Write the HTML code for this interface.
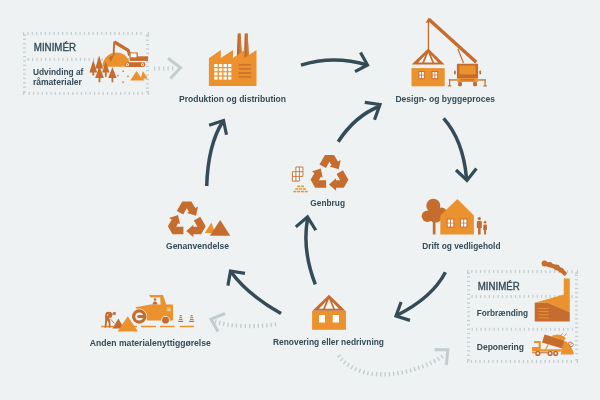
<!DOCTYPE html>
<html><head><meta charset="utf-8">
<style>
html,body{margin:0;padding:0;background:#eef2f3;}
body{width:600px;height:400px;overflow:hidden;}
svg{display:block;will-change:transform;}
.mn{font-weight:normal;stroke:#344b58;stroke-width:0.35px;}
text{font-family:"Liberation Sans",sans-serif;font-weight:bold;fill:#344b58;}
</style></head>
<body>
<svg width="600" height="400" viewBox="0 0 600 400">
<rect x="0" y="0" width="600" height="400" fill="#eef2f3"/>

<!-- ===== dashed boxes ===== -->
<g fill="#c3ccce"><rect x="27.30" y="32" width="1.2" height="3"/><rect x="31.65" y="32" width="1.2" height="3"/><rect x="36.00" y="32" width="1.2" height="3"/><rect x="40.35" y="32" width="1.2" height="3"/><rect x="44.70" y="32" width="1.2" height="3"/><rect x="49.05" y="32" width="1.2" height="3"/><rect x="53.40" y="32" width="1.2" height="3"/><rect x="57.75" y="32" width="1.2" height="3"/><rect x="62.10" y="32" width="1.2" height="3"/><rect x="66.45" y="32" width="1.2" height="3"/><rect x="70.80" y="32" width="1.2" height="3"/><rect x="75.15" y="32" width="1.2" height="3"/><rect x="79.50" y="32" width="1.2" height="3"/><rect x="83.85" y="32" width="1.2" height="3"/><rect x="88.20" y="32" width="1.2" height="3"/><rect x="92.55" y="32" width="1.2" height="3"/><rect x="96.90" y="32" width="1.2" height="3"/><rect x="101.25" y="32" width="1.2" height="3"/><rect x="105.60" y="32" width="1.2" height="3"/><rect x="109.95" y="32" width="1.2" height="3"/><rect x="114.30" y="32" width="1.2" height="3"/><rect x="118.65" y="32" width="1.2" height="3"/><rect x="123.00" y="32" width="1.2" height="3"/><rect x="127.35" y="32" width="1.2" height="3"/><rect x="131.70" y="32" width="1.2" height="3"/><rect x="136.05" y="32" width="1.2" height="3"/><rect x="140.40" y="32" width="1.2" height="3"/>
<rect x="28.65" y="92" width="1.2" height="3"/><rect x="33.00" y="92" width="1.2" height="3"/><rect x="37.35" y="92" width="1.2" height="3"/><rect x="41.70" y="92" width="1.2" height="3"/><rect x="46.05" y="92" width="1.2" height="3"/><rect x="50.40" y="92" width="1.2" height="3"/><rect x="54.75" y="92" width="1.2" height="3"/><rect x="59.10" y="92" width="1.2" height="3"/><rect x="63.45" y="92" width="1.2" height="3"/><rect x="67.80" y="92" width="1.2" height="3"/><rect x="72.15" y="92" width="1.2" height="3"/><rect x="76.50" y="92" width="1.2" height="3"/><rect x="80.85" y="92" width="1.2" height="3"/><rect x="85.20" y="92" width="1.2" height="3"/><rect x="89.55" y="92" width="1.2" height="3"/><rect x="93.90" y="92" width="1.2" height="3"/><rect x="98.25" y="92" width="1.2" height="3"/><rect x="102.60" y="92" width="1.2" height="3"/><rect x="106.95" y="92" width="1.2" height="3"/><rect x="111.30" y="92" width="1.2" height="3"/><rect x="115.65" y="92" width="1.2" height="3"/><rect x="120.00" y="92" width="1.2" height="3"/><rect x="124.35" y="92" width="1.2" height="3"/><rect x="128.70" y="92" width="1.2" height="3"/><rect x="133.05" y="92" width="1.2" height="3"/><rect x="137.40" y="92" width="1.2" height="3"/><rect x="141.75" y="92" width="1.2" height="3"/>
<rect x="23" y="38.65" width="3" height="1.2"/><rect x="23" y="43.00" width="3" height="1.2"/><rect x="23" y="47.35" width="3" height="1.2"/><rect x="23" y="51.70" width="3" height="1.2"/><rect x="23" y="56.05" width="3" height="1.2"/><rect x="23" y="60.40" width="3" height="1.2"/><rect x="23" y="64.75" width="3" height="1.2"/><rect x="23" y="69.10" width="3" height="1.2"/><rect x="23" y="73.45" width="3" height="1.2"/><rect x="23" y="77.80" width="3" height="1.2"/><rect x="23" y="82.15" width="3" height="1.2"/><rect x="23" y="86.50" width="3" height="1.2"/>
<rect x="146" y="35.30" width="3" height="1.2"/><rect x="146" y="39.65" width="3" height="1.2"/><rect x="146" y="44.00" width="3" height="1.2"/><rect x="146" y="48.35" width="3" height="1.2"/><rect x="146" y="52.70" width="3" height="1.2"/><rect x="146" y="57.05" width="3" height="1.2"/><rect x="146" y="61.40" width="3" height="1.2"/><rect x="146" y="65.75" width="3" height="1.2"/><rect x="146" y="70.10" width="3" height="1.2"/><rect x="146" y="74.45" width="3" height="1.2"/><rect x="146" y="78.80" width="3" height="1.2"/><rect x="146" y="83.15" width="3" height="1.2"/><rect x="146" y="87.50" width="3" height="1.2"/>
<rect x="27.65" y="58" width="1.2" height="3"/><rect x="32.00" y="58" width="1.2" height="3"/><rect x="36.35" y="58" width="1.2" height="3"/><rect x="40.70" y="58" width="1.2" height="3"/><rect x="45.05" y="58" width="1.2" height="3"/><rect x="49.40" y="58" width="1.2" height="3"/><rect x="53.75" y="58" width="1.2" height="3"/><rect x="58.10" y="58" width="1.2" height="3"/><rect x="62.45" y="58" width="1.2" height="3"/><rect x="66.80" y="58" width="1.2" height="3"/><rect x="71.15" y="58" width="1.2" height="3"/><rect x="75.50" y="58" width="1.2" height="3"/><rect x="79.85" y="58" width="1.2" height="3"/><rect x="84.20" y="58" width="1.2" height="3"/><rect x="88.55" y="58" width="1.2" height="3"/><rect x="92.90" y="58" width="1.2" height="3"/><rect x="97.25" y="58" width="1.2" height="3"/><rect x="101.60" y="58" width="1.2" height="3"/><rect x="105.95" y="58" width="1.2" height="3"/><rect x="110.30" y="58" width="1.2" height="3"/><rect x="114.65" y="58" width="1.2" height="3"/><rect x="119.00" y="58" width="1.2" height="3"/><rect x="123.35" y="58" width="1.2" height="3"/><rect x="127.70" y="58" width="1.2" height="3"/><rect x="132.05" y="58" width="1.2" height="3"/><rect x="136.40" y="58" width="1.2" height="3"/><rect x="140.75" y="58" width="1.2" height="3"/>
<rect x="23" y="32" width="1.3" height="3.8"/><rect x="23" y="34.5" width="3" height="1.3"/>
<rect x="23" y="91.2" width="1.3" height="3.8"/><rect x="23" y="91.2" width="3" height="1.3"/>
<rect x="147.7" y="32" width="1.3" height="3.8"/><rect x="146" y="34.5" width="3" height="1.3"/>
<rect x="147.7" y="91.2" width="1.3" height="3.8"/><rect x="146" y="91.2" width="3" height="1.3"/>
<rect x="471.20" y="270" width="1.2" height="3"/><rect x="475.55" y="270" width="1.2" height="3"/><rect x="479.90" y="270" width="1.2" height="3"/><rect x="484.25" y="270" width="1.2" height="3"/><rect x="488.60" y="270" width="1.2" height="3"/><rect x="492.95" y="270" width="1.2" height="3"/><rect x="497.30" y="270" width="1.2" height="3"/><rect x="501.65" y="270" width="1.2" height="3"/><rect x="506.00" y="270" width="1.2" height="3"/><rect x="510.35" y="270" width="1.2" height="3"/><rect x="514.70" y="270" width="1.2" height="3"/><rect x="519.05" y="270" width="1.2" height="3"/><rect x="523.40" y="270" width="1.2" height="3"/><rect x="527.75" y="270" width="1.2" height="3"/><rect x="532.10" y="270" width="1.2" height="3"/><rect x="536.45" y="270" width="1.2" height="3"/><rect x="540.80" y="270" width="1.2" height="3"/><rect x="545.15" y="270" width="1.2" height="3"/><rect x="549.50" y="270" width="1.2" height="3"/><rect x="553.85" y="270" width="1.2" height="3"/><rect x="558.20" y="270" width="1.2" height="3"/><rect x="562.55" y="270" width="1.2" height="3"/><rect x="566.90" y="270" width="1.2" height="3"/><rect x="571.25" y="270" width="1.2" height="3"/>
<rect x="470.65" y="360" width="1.2" height="3"/><rect x="475.00" y="360" width="1.2" height="3"/><rect x="479.35" y="360" width="1.2" height="3"/><rect x="483.70" y="360" width="1.2" height="3"/><rect x="488.05" y="360" width="1.2" height="3"/><rect x="492.40" y="360" width="1.2" height="3"/><rect x="496.75" y="360" width="1.2" height="3"/><rect x="501.10" y="360" width="1.2" height="3"/><rect x="505.45" y="360" width="1.2" height="3"/><rect x="509.80" y="360" width="1.2" height="3"/><rect x="514.15" y="360" width="1.2" height="3"/><rect x="518.50" y="360" width="1.2" height="3"/><rect x="522.85" y="360" width="1.2" height="3"/><rect x="527.20" y="360" width="1.2" height="3"/><rect x="531.55" y="360" width="1.2" height="3"/><rect x="535.90" y="360" width="1.2" height="3"/><rect x="540.25" y="360" width="1.2" height="3"/><rect x="544.60" y="360" width="1.2" height="3"/><rect x="548.95" y="360" width="1.2" height="3"/><rect x="553.30" y="360" width="1.2" height="3"/><rect x="557.65" y="360" width="1.2" height="3"/><rect x="562.00" y="360" width="1.2" height="3"/><rect x="566.35" y="360" width="1.2" height="3"/><rect x="570.70" y="360" width="1.2" height="3"/>
<rect x="467" y="276.40" width="3" height="1.2"/><rect x="467" y="280.75" width="3" height="1.2"/><rect x="467" y="285.10" width="3" height="1.2"/><rect x="467" y="289.45" width="3" height="1.2"/><rect x="467" y="293.80" width="3" height="1.2"/><rect x="467" y="298.15" width="3" height="1.2"/><rect x="467" y="302.50" width="3" height="1.2"/><rect x="467" y="306.85" width="3" height="1.2"/><rect x="467" y="311.20" width="3" height="1.2"/><rect x="467" y="315.55" width="3" height="1.2"/><rect x="467" y="319.90" width="3" height="1.2"/><rect x="467" y="324.25" width="3" height="1.2"/><rect x="467" y="328.60" width="3" height="1.2"/><rect x="467" y="332.95" width="3" height="1.2"/><rect x="467" y="337.30" width="3" height="1.2"/><rect x="467" y="341.65" width="3" height="1.2"/><rect x="467" y="346.00" width="3" height="1.2"/><rect x="467" y="350.35" width="3" height="1.2"/><rect x="467" y="354.70" width="3" height="1.2"/>
<rect x="575" y="274.80" width="3" height="1.2"/><rect x="575" y="279.15" width="3" height="1.2"/><rect x="575" y="283.50" width="3" height="1.2"/><rect x="575" y="287.85" width="3" height="1.2"/><rect x="575" y="292.20" width="3" height="1.2"/><rect x="575" y="296.55" width="3" height="1.2"/><rect x="575" y="300.90" width="3" height="1.2"/><rect x="575" y="305.25" width="3" height="1.2"/><rect x="575" y="309.60" width="3" height="1.2"/><rect x="575" y="313.95" width="3" height="1.2"/><rect x="575" y="318.30" width="3" height="1.2"/><rect x="575" y="322.65" width="3" height="1.2"/><rect x="575" y="327.00" width="3" height="1.2"/><rect x="575" y="331.35" width="3" height="1.2"/><rect x="575" y="335.70" width="3" height="1.2"/><rect x="575" y="340.05" width="3" height="1.2"/><rect x="575" y="344.40" width="3" height="1.2"/><rect x="575" y="348.75" width="3" height="1.2"/><rect x="575" y="353.10" width="3" height="1.2"/>
<rect x="471.40" y="295" width="1.2" height="3"/><rect x="475.75" y="295" width="1.2" height="3"/><rect x="480.10" y="295" width="1.2" height="3"/><rect x="484.45" y="295" width="1.2" height="3"/><rect x="488.80" y="295" width="1.2" height="3"/><rect x="493.15" y="295" width="1.2" height="3"/><rect x="497.50" y="295" width="1.2" height="3"/><rect x="501.85" y="295" width="1.2" height="3"/><rect x="506.20" y="295" width="1.2" height="3"/><rect x="510.55" y="295" width="1.2" height="3"/><rect x="514.90" y="295" width="1.2" height="3"/><rect x="519.25" y="295" width="1.2" height="3"/><rect x="523.60" y="295" width="1.2" height="3"/><rect x="527.95" y="295" width="1.2" height="3"/><rect x="532.30" y="295" width="1.2" height="3"/><rect x="536.65" y="295" width="1.2" height="3"/><rect x="541.00" y="295" width="1.2" height="3"/><rect x="545.35" y="295" width="1.2" height="3"/><rect x="549.70" y="295" width="1.2" height="3"/><rect x="554.05" y="295" width="1.2" height="3"/><rect x="558.40" y="295" width="1.2" height="3"/><rect x="562.75" y="295" width="1.2" height="3"/><rect x="567.10" y="295" width="1.2" height="3"/><rect x="571.45" y="295" width="1.2" height="3"/>
<rect x="471.65" y="327.75" width="1.2" height="3"/><rect x="476.00" y="327.75" width="1.2" height="3"/><rect x="480.35" y="327.75" width="1.2" height="3"/><rect x="484.70" y="327.75" width="1.2" height="3"/><rect x="489.05" y="327.75" width="1.2" height="3"/><rect x="493.40" y="327.75" width="1.2" height="3"/><rect x="497.75" y="327.75" width="1.2" height="3"/><rect x="502.10" y="327.75" width="1.2" height="3"/><rect x="506.45" y="327.75" width="1.2" height="3"/><rect x="510.80" y="327.75" width="1.2" height="3"/><rect x="515.15" y="327.75" width="1.2" height="3"/><rect x="519.50" y="327.75" width="1.2" height="3"/><rect x="523.85" y="327.75" width="1.2" height="3"/><rect x="528.20" y="327.75" width="1.2" height="3"/><rect x="532.55" y="327.75" width="1.2" height="3"/><rect x="536.90" y="327.75" width="1.2" height="3"/><rect x="541.25" y="327.75" width="1.2" height="3"/><rect x="545.60" y="327.75" width="1.2" height="3"/><rect x="549.95" y="327.75" width="1.2" height="3"/><rect x="554.30" y="327.75" width="1.2" height="3"/><rect x="558.65" y="327.75" width="1.2" height="3"/><rect x="563.00" y="327.75" width="1.2" height="3"/><rect x="567.35" y="327.75" width="1.2" height="3"/><rect x="571.70" y="327.75" width="1.2" height="3"/>
<rect x="467" y="270" width="1.3" height="3.8"/><rect x="467" y="272.5" width="3" height="1.3"/>
<rect x="467" y="359.2" width="1.3" height="3.8"/><rect x="467" y="359.2" width="3" height="1.3"/>
<rect x="576.7" y="270" width="1.3" height="3.8"/><rect x="575" y="272.5" width="3" height="1.3"/>
<rect x="576.7" y="359.2" width="1.3" height="3.8"/><rect x="575" y="359.2" width="3" height="1.3"/></g>

<!-- ===== gray dotted arrows ===== -->
<g fill="none" stroke="#c3ccce">
  <path d="M154,68.5 L174,68.5" stroke-width="4" stroke-dasharray="1.3 3.2"/>
  <path d="M168,58.2 L180.5,67.8 L170.5,78.6" stroke-width="3"/>
  <path d="M276,324.1 C260.12,327.22 227.71,327.12 214.5,321" stroke-width="4.2" stroke-dasharray="1.4 2.9"/>
  <path d="M225,313.5 L211,319.2 L218,331.5" stroke-width="3"/>
  <path d="M338.5,355.5 C361.27,385.39 413.45,376.07 445,354.8" stroke-width="4.2" stroke-dasharray="1.4 2.9"/>
  <path d="M434.5,349.8 L447.8,349.8 L446.3,365" stroke-width="3"/>
</g>

<!-- ===== dark arrows ===== -->
<g fill="none" stroke="#344b58" stroke-width="3.5">
  <path d="M301,65.1 Q334,55 367,65"/>
  <path d="M360.5,52.5 L367.5,65 L355,71.6" stroke-width="3.2"/>
  <path d="M443.6,118.4 Q463,140 466.5,178"/>
  <path d="M456,170 L467,180.5 L476.4,168.6" stroke-width="3.2"/>
  <path d="M445.4,272.3 Q432,298 396.5,315.5"/>
  <path d="M401.1,302 L396,316 L410,320.4" stroke-width="3.2"/>
  <path d="M281,313.5 Q247,294 231.5,272.5"/>
  <path d="M245,273.4 L230.5,271 L227.9,285.6" stroke-width="3.2"/>
  <path d="M206.7,186 Q208,145 222.5,122"/>
  <path d="M209.1,125.3 L223.5,120.5 L226.5,134.75" stroke-width="3.2"/>
  <path d="M315.3,284.3 Q302,250 307.5,219"/>
  <path d="M295.8,226.9 L307.5,217 L315.8,230.25" stroke-width="3.2"/>
  <path d="M338.2,141.7 Q355,116 379,106.5"/>
  <path d="M364.8,102.3 L380,104.5 L374.5,119.7" stroke-width="3.2"/>
</g>

<!-- ===== texts ===== -->
<g font-size="9.6">
  <text x="33.8" y="51" font-size="10" textLength="42.2" lengthAdjust="spacingAndGlyphs" class="mn">MINIMÉR</text>
  <text x="32.9" y="74.6" textLength="50.5" lengthAdjust="spacingAndGlyphs">Udvinding af</text>
  <text x="32.9" y="85.3" textLength="49" lengthAdjust="spacingAndGlyphs">råmaterialer</text>
  <text x="179" y="102" textLength="107" lengthAdjust="spacingAndGlyphs">Produktion og distribution</text>
  <text x="395.4" y="102.4" textLength="99.6" lengthAdjust="spacingAndGlyphs">Design- og byggeproces</text>
  <text x="422.2" y="249.2" textLength="78.3" lengthAdjust="spacingAndGlyphs">Drift og vedligehold</text>
  <text x="273" y="345.4" textLength="111" lengthAdjust="spacingAndGlyphs">Renovering eller nedrivning</text>
  <text x="89.8" y="346.4" textLength="121" lengthAdjust="spacingAndGlyphs">Anden materialenyttiggørelse</text>
  <text x="166" y="248.9" textLength="63" lengthAdjust="spacingAndGlyphs">Genanvendelse</text>
  <text x="310.3" y="205.8" textLength="34.7" lengthAdjust="spacingAndGlyphs">Genbrug</text>
  <text x="477.8" y="290" font-size="10" textLength="42" lengthAdjust="spacingAndGlyphs" class="mn">MINIMÉR</text>
  <text x="476.8" y="315.8" textLength="51.3" lengthAdjust="spacingAndGlyphs">Forbrænding</text>
  <text x="476.8" y="350.2" textLength="47.2" lengthAdjust="spacingAndGlyphs">Deponering</text>
</g>

<!-- ICONS -->
<defs>
  <g id="rc1"><polygon points="-9.48,-9.17 -4.33,-18.1 4.33,-18.1 7.98,-11.77 10.58,-13.27 8.73,-4.47 0.19,-7.27 1.92,-8.27 0,-11.6 -3.42,-5.67"/></g>
  <g id="rc"><use href="#rc1"/><use href="#rc1" transform="rotate(120)"/><use href="#rc1" transform="rotate(240)"/></g>
  <g id="truss"><polygon fill="#c56c2e" points="-16.5,15.85 0,0 16.4,15.85"/><g fill="#f6f8f8"><polygon points="-10,13.95 -5.9,13.95 -2.9,6.3"/><polygon points="-4,13.95 4,13.95 0,4.1"/><polygon points="9.9,13.95 5.8,13.95 2.8,6.3"/></g></g>
</defs>

<!-- Genanvendelse triangles -->
<polygon fill="#eb922e" points="204.7,232.9 211.4,222.4 215.2,232.9"/>
<polygon fill="#c56c2e" points="209.9,235.8 220.2,220.1 230.3,235.8"/>

<!-- Genbrug: grid + bricks -->
<g fill="none" stroke="#c56c2e" stroke-width="0.9">
  <path d="M295.9,167 H302.9 V176.4 H299.4 V181.1 H292.4 V171.7 H295.9 Z" fill="#fbfcfc"/>
  <path d="M295.9,171.7 V181.1 M299.4,167 V176.4 M292.4,176.4 H299.4 M295.9,171.7 H302.9"/>
</g>
<g fill="#eb922e">
  <rect x="297.2" y="185.6" width="3" height="1.5"/><rect x="301" y="185.6" width="3" height="1.5"/>
  <rect x="295.3" y="188.2" width="3" height="1.5"/><rect x="299.1" y="188.2" width="3" height="1.5"/><rect x="302.9" y="188.2" width="3" height="1.5"/>
  <rect x="293.3" y="190.8" width="3" height="1.5"/><rect x="297.1" y="190.8" width="3" height="1.5"/><rect x="300.9" y="190.8" width="3" height="1.5"/><rect x="304.7" y="190.8" width="3" height="1.5"/>
</g>

<!-- Factory -->
<polygon fill="#c0652a" points="237.7,33.4 240.6,33.4 241.8,56 236.8,56"/><polygon fill="#d07838" points="239.2,33.4 240.6,33.4 241.8,56 239.3,56"/>
<polygon fill="#c0652a" points="244.7,33.4 247.7,33.4 248.9,58.5 243.9,58.5"/><polygon fill="#d07838" points="246.2,33.4 247.7,33.4 248.9,58.5 246.4,58.5"/>
<polygon fill="#eb922e" points="208.9,86 208.9,58.3 220.8,50 220.8,58 233,50 233,58 244.5,50 244.5,58 256.5,50 256.5,86"/>
<g fill="#fff">
  <rect x="214.3" y="64" width="3.3" height="3"/><rect x="218.9" y="64" width="3.3" height="3"/><rect x="223.5" y="64" width="3.3" height="3"/><rect x="228.1" y="64" width="3.3" height="3"/>
  <rect x="214.3" y="68.2" width="3.3" height="3"/><rect x="218.9" y="68.2" width="3.3" height="3"/><rect x="223.5" y="68.2" width="3.3" height="3"/><rect x="228.1" y="68.2" width="3.3" height="3"/>
  <rect x="214.3" y="72.4" width="3.3" height="3"/><rect x="218.9" y="72.4" width="3.3" height="3"/><rect x="223.5" y="72.4" width="3.3" height="3"/><rect x="228.1" y="72.4" width="3.3" height="3"/>
  <rect x="214.3" y="76.6" width="3.3" height="3"/><rect x="218.9" y="76.6" width="3.3" height="3"/><rect x="223.5" y="76.6" width="3.3" height="3"/><rect x="228.1" y="76.6" width="3.3" height="3"/>
</g>
<g stroke="#c56c2e" stroke-width="1.3">
  <path d="M238.5,64.8 H251.2 M238.5,68.9 H251.2 M238.5,73 H251.2 M238.5,76.9 H251.2"/>
</g>

<!-- Design: crane + house -->
<use href="#truss" transform="translate(428.2,48.6)"/>
<g stroke="#c56c2e" fill="none">
  <path d="M428.8,19.3 L476.3,62.3" stroke-width="3.4"/>
  <path d="M428.4,21 V49.5" stroke-width="1.3"/>
  <path d="M457.8,48.8 L463.5,63" stroke-width="1.2"/>
</g>
<polygon fill="#c56c2e" points="425.5,23 428.8,17.5 431.5,22"/>
<rect x="411.5" y="68.1" width="33.2" height="18.2" fill="#eb922e"/>
<g fill="#c56c2e"><rect x="418.4" y="70.9" width="6.2" height="8.3"/><rect x="431.6" y="70.9" width="6.5" height="8.3"/></g>
<g fill="#fff">
  <rect x="419.4" y="71.9" width="1.8" height="2.8"/><rect x="422" y="71.9" width="1.8" height="2.8"/>
  <rect x="419.4" y="75.4" width="1.8" height="2.8"/><rect x="422" y="75.4" width="1.8" height="2.8"/>
  <rect x="432.6" y="71.9" width="1.9" height="2.8"/><rect x="435.3" y="71.9" width="1.9" height="2.8"/>
  <rect x="432.6" y="75.4" width="1.9" height="2.8"/><rect x="435.3" y="75.4" width="1.9" height="2.8"/>
</g>
<rect x="456.9" y="63.7" width="21.2" height="14.8" rx="1" fill="#c56c2e"/>
<rect x="459.4" y="65.6" width="16.2" height="8.8" fill="#eb922e"/>
<rect x="457.2" y="78" width="20.6" height="4" fill="#eb922e"/>
<g fill="#c56c2e">
  <rect x="458" y="82" width="4" height="4.3" rx="1.2"/><rect x="473" y="82" width="4" height="4.3" rx="1.2"/>
  <rect x="454" y="70.5" width="1.8" height="4" rx="0.9"/><rect x="479.3" y="70.5" width="1.8" height="4" rx="0.9"/>
  <rect x="448.8" y="79.3" width="8.2" height="1.3"/><rect x="478" y="79.3" width="7.6" height="1.3"/>
  <rect x="449" y="79.3" width="1.2" height="6.5"/><rect x="484.5" y="79.3" width="1.2" height="6.5"/>
  <rect x="447.8" y="85.3" width="3.5" height="1.2"/><rect x="483.4" y="85.3" width="3.5" height="1.2"/>
  <rect x="460.5" y="79.3" width="13.5" height="1.2"/>
</g>

<!-- Drift: tree + house + people -->
<g fill="#c56c2e">
  <circle cx="433.3" cy="205.8" r="7"/>
  <circle cx="427.4" cy="216.3" r="5.7"/>
  <circle cx="441.5" cy="212.8" r="5.4"/>
  <circle cx="435.5" cy="216" r="6.6"/>
  <rect x="432.8" y="218" width="2.7" height="16.4"/>
</g>
<polygon fill="#eb922e" points="440.3,215.6 457.4,199 473.9,215.6 473.9,234.4 440.3,234.4"/>
<g fill="#c56c2e"><rect x="446.7" y="218.5" width="7.5" height="9"/><rect x="459.9" y="218.5" width="7.5" height="9"/></g>
<g fill="#fff">
  <rect x="447.7" y="219.5" width="2.4" height="3.2"/><rect x="450.9" y="219.5" width="2.4" height="3.2"/>
  <rect x="447.7" y="223.4" width="2.4" height="3.2"/><rect x="450.9" y="223.4" width="2.4" height="3.2"/>
  <rect x="460.9" y="219.5" width="2.4" height="3.2"/><rect x="464.1" y="219.5" width="2.4" height="3.2"/>
  <rect x="460.9" y="223.4" width="2.4" height="3.2"/><rect x="464.1" y="223.4" width="2.4" height="3.2"/>
</g>
<g fill="#c56c2e">
  <circle cx="479.3" cy="218.5" r="1.6"/>
  <path d="M476.8,228 V222.5 Q476.8,220.8 478.3,220.8 H480.3 Q481.8,220.8 481.8,222.5 V228 H480.6 V234.4 H478 V228 Z"/>
  <circle cx="485.1" cy="222.3" r="1.3"/>
  <path d="M483.2,230 V225.8 Q483.2,224.4 484.4,224.4 H485.8 Q487,224.4 487,225.8 V230 H486.1 V234.4 H484.1 V230 Z"/>
</g>

<!-- Renovering house -->
<rect x="312.1" y="310.9" width="33.9" height="18.9" fill="#eb922e"/>
<g fill="#fff"><rect x="319" y="315" width="6" height="7.5"/><rect x="332.7" y="315" width="6.3" height="7.5"/></g>
<use href="#truss" transform="translate(329,294.85)"/>

<!-- Excavator scene -->
<path fill="#eb922e" d="M102.3,66.8 C102.6,58 109,52.4 116.5,52.4 C124,52.4 129.8,57.5 129.8,66.8 Z"/>
<g fill="#c56c2e"><polygon points="99.2,55.4 103.10000000000001,68.6 100.10000000000001,68.6 100.10000000000001,70 98.3,70 98.3,68.6 95.3,68.6"/><polygon points="93.3,60.1 97.2,72.4 94.2,72.4 94.2,75.4 92.39999999999999,75.4 92.39999999999999,72.4 89.39999999999999,72.4"/><polygon points="105.8,61.35 109.5,72.4 106.7,72.4 106.7,76.7 104.89999999999999,76.7 104.89999999999999,72.4 102.1,72.4"/><polygon points="99.5,66.3 103.9,77.9 100.4,77.9 100.4,82.2 98.6,82.2 98.6,77.9 95.1,77.9"/><polygon points="112.4,66.9 116.60000000000001,77.9 113.30000000000001,77.9 113.30000000000001,82.2 111.5,82.2 111.5,77.9 108.2,77.9"/></g>
<g stroke="#c56c2e" fill="none">
  <path d="M114.4,42 L128.3,50.4 L129.8,55.5" stroke-width="3.3" stroke-linejoin="round"/>
  <path d="M114.2,41.5 L113.6,55.5" stroke-width="1.9"/>
</g>
<polygon fill="#c56c2e" points="113.9,55 108.8,57.3 110.8,62.3"/>
<g fill="#c56c2e">
  <rect x="129.6" y="52.4" width="8.2" height="5.8"/>
  <rect x="129.6" y="56.3" width="18.4" height="4.6"/>
  <rect x="125.2" y="62.3" width="20.2" height="4.8" rx="2.4"/>
  <rect x="122.4" y="70.5" width="1.4" height="1.4"/><rect x="117.2" y="74.8" width="1.4" height="1.4"/>
  <rect x="127.3" y="75.7" width="1.4" height="1.4"/><rect x="122.4" y="81.5" width="1.4" height="1.4"/>
</g>
<rect x="130.6" y="53.4" width="5.9" height="3.9" fill="#fff"/>
<g fill="#fff"><circle cx="127.5" cy="64.7" r="1.4"/><circle cx="142.4" cy="64.7" r="1.4"/></g>
<g fill="#c56c2e"><circle cx="127.5" cy="64.7" r="0.6"/><circle cx="142.4" cy="64.7" r="0.6"/></g>
<polygon fill="#eb922e" points="130.2,80.6 136.5,71.1 141,77.5 142.8,71 147.8,78.6 143.3,78.6 144.3,80.6"/>

<!-- Anden: road -->
<g stroke="#eb922e" stroke-width="1.3">
  <path d="M101,326.5 H137 M141,326.5 H156 M160,326.5 H174.6 M179.7,326.5 H194"/>
</g>
<!-- worker -->
<g fill="#c56c2e">
  <circle cx="114.4" cy="313.4" r="1.6"/>
  <path d="M105.5,313.5 Q106,311.8 108,311.8 L110.5,312 Q112.5,312.5 112.8,314.5 L111.5,317.6 L109.6,318.4 L110.5,322 L110.3,327.8 L108.8,327.8 L108.6,322.5 L107.2,320.5 L106.2,327.8 L104.6,327.8 L105.2,320 L105,316 Z"/>
</g>
<path d="M110.5,319 L114.4,323.4" stroke="#c56c2e" stroke-width="0.9"/>
<path d="M107.4,314 L107.9,316.2 M109.3,317.6 L110,319.3" stroke="#f3e6d8" stroke-width="0.7"/>
<polygon fill="#c56c2e" points="112.4,328.6 118.4,318.5 124,328.6"/>
<polygon fill="#eb922e" points="117.6,331.6 127.75,316.25 137.9,331.6"/>
<!-- roller body -->
<g fill="#eb922e">
  <path d="M149,295 H163 L166.2,304.5 H173 V320.5 H148 L135.2,307.2 L150.5,304.5 H160.6 L160.2,297.6 H150.5 Z"/>
</g>
<g fill="#c56c2e">
  <circle cx="165.5" cy="320.2" r="3.4" stroke="#eef2f3" stroke-width="1.6" paint-order="stroke"/>
  <circle cx="155" cy="299.6" r="1.3"/>
  <path d="M152.6,304.5 Q152.8,301.6 155,301.6 Q157.2,301.6 157.4,304.5 Z"/>
</g>
<g stroke="#f5d7b0" stroke-width="0.8"><path d="M166.8,307.9 H171 M166.8,309.3 H171 M166.8,310.7 H171"/></g>
<circle cx="139.2" cy="316.5" r="7.2" fill="#c56c2e" stroke="#eef2f3" stroke-width="1.4" paint-order="stroke"/>
<circle cx="139.2" cy="316.5" r="3.9" fill="#eef2f3"/>
<rect x="137.2" y="315" width="9.3" height="3" rx="1.5" fill="#c56c2e"/>
<polygon fill="#c56c2e" points="179.90,314.9 181.50,314.9 182.80,321.3 178.60,321.3"/><rect fill="#c56c2e" x="178.20" y="320.9" width="5" height="1.1"/><g fill="#f2efe9"><rect x="179.20" y="316.3" width="3" height="0.9"/><rect x="178.80" y="318.2" width="3.8" height="0.9"/><rect x="178.40" y="320.1" width="4.6" height="0.8"/></g><polygon fill="#c56c2e" points="190.90,314.9 192.50,314.9 193.80,321.3 189.60,321.3"/><rect fill="#c56c2e" x="189.20" y="320.9" width="5" height="1.1"/><g fill="#f2efe9"><rect x="190.20" y="316.3" width="3" height="0.9"/><rect x="189.80" y="318.2" width="3.8" height="0.9"/><rect x="189.40" y="320.1" width="4.6" height="0.8"/></g>

<!-- Incineration -->
<polygon fill="#eb922e" points="534.7,302.8 563.75,294.4 563.75,278.4 569.75,278.4 569.75,312.2 547.8,302.8"/>
<polygon fill="#c56c2e" points="534.7,302.8 547.8,302.8 569.75,312.2 569.75,321.6 534.7,321.6"/>
<g stroke="#eb922e" stroke-width="1"><path d="M538.4,308.4 H548.7 M538.4,311.6 H548.7 M538.4,314.7 H548.7 M538.4,317.9 H548.7"/></g>
<path d="M544.8,263.8 C549,264 552.5,266 556.5,267.5 C559.5,268.6 562,270.5 564.6,273.4" fill="none" stroke="#c56c2e" stroke-width="4.3" stroke-linecap="round"/>
<g fill="#c56c2e">
  <circle cx="544.5" cy="263.5" r="2.9"/><circle cx="549.8" cy="264.6" r="2.7"/><circle cx="556.8" cy="267.4" r="2.9"/><circle cx="561.2" cy="270.2" r="2.5"/>
</g>
<!-- Dump truck -->
<g fill="#eb922e">
  <path d="M534,341 H540.8 V349.2 H562 V351.4 H532 V347 H538.6 V343 H534 Z"/>
  <path d="M560.8,354.4 L563.2,341.5 Q565,340.6 566.2,341.4 Q571.5,346 573.6,352.6 L573.6,354.4 Z"/>
  <path d="M545.8,349 L548.4,344.5" stroke="#eb922e" stroke-width="1.3"/>
</g>
<polygon fill="#c56c2e" points="544.6,334.4 564.1,340.3 562.2,348.6 542,342.5"/>
<path fill="#eb922e" d="M551.5,336.4 Q553,334.6 555.5,335 Q558,334 560.5,335.2 Q563.5,335.3 566,338.6 L564.1,340.3 Z"/>
<g stroke="#c56c2e" stroke-width="0.8" fill="none">
  <path d="M560.2,336 L562.9,333.2 M564.3,336.3 L566.6,333.5"/>
  <path d="M568.4,342.6 L571.2,341.9 L573.6,344.4 L572.2,346.6 L569.5,346.3 Z M570.6,344.3 L572.4,343.5"/>
</g>
<path d="M532,352.7 H535.6 M540,352.7 H548" stroke="#c56c2e" stroke-width="1.1"/>
<g fill="#fff" stroke="#c56c2e" stroke-width="1.5">
  <circle cx="537.8" cy="353.4" r="1.85"/><circle cx="550.1" cy="353.4" r="1.85"/><circle cx="555.6" cy="353.4" r="1.85"/>
</g>
<!-- recycle symbols -->
<g fill="#c56c2e">
  <use href="#rc" transform="translate(186.8,220.6) scale(1.06)"/>
  <use href="#rc" transform="translate(329.5,174.1) scale(1.06)"/>
</g>

</svg>
</body></html>
